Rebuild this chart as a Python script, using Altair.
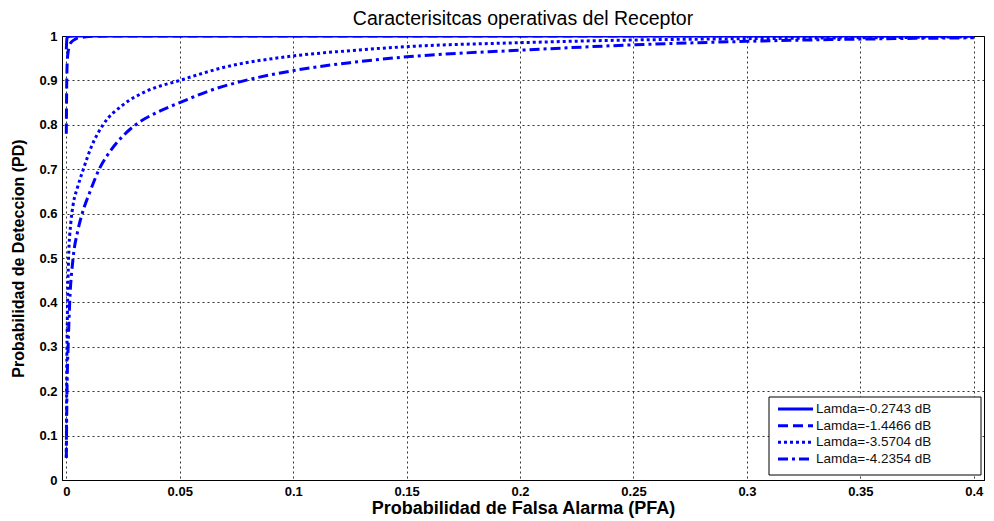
import altair as alt
import pandas as pd

# Series values
labels = ["Lamda=-0.2743 dB", "Lamda=-1.4466 dB", "Lamda=-3.5704 dB", "Lamda=-4.2354 dB"]

pfa_1 = [0.0, 0.0003, 0.001, 0.005, 0.1, 0.2, 0.3, 0.4]
pd_1 = [0.97, 0.995, 0.999, 1.0, 1.0, 1.0, 1.0, 1.0]

pfa_2 = [0.0, 0.0002, 0.0005, 0.001, 0.002, 0.004, 0.007, 0.01, 0.02, 0.05, 0.1, 0.2, 0.3, 0.4]
pd_2 = [0.78, 0.9, 0.95, 0.97, 0.985, 0.993, 0.997, 0.999, 1.0, 1.0, 1.0, 1.0, 1.0, 1.0]

pfa_3 = [0.0, 0.0002, 0.0005, 0.001, 0.002, 0.003, 0.005, 0.0075, 0.011, 0.0162, 0.025,
         0.035, 0.05, 0.07, 0.1, 0.125, 0.15, 0.2, 0.25, 0.3, 0.35, 0.4]
pd_3 = [0.05, 0.25, 0.38, 0.5, 0.58, 0.62, 0.66, 0.70, 0.75, 0.8, 0.845,
        0.875, 0.9, 0.93, 0.955, 0.967, 0.976, 0.985, 0.991, 0.994, 0.996, 0.998]

pfa_4 = [0.0, 0.0003, 0.0008, 0.0015, 0.003, 0.005, 0.007, 0.0105, 0.0145, 0.02, 0.025, 0.03,
         0.04, 0.05, 0.065, 0.079, 0.1, 0.125, 0.15, 0.2, 0.25, 0.3, 0.35, 0.4]
pd_4 = [0.05, 0.2, 0.3, 0.4, 0.5, 0.56, 0.6, 0.65, 0.7, 0.745, 0.775, 0.798,
        0.828, 0.85, 0.88, 0.9, 0.922, 0.94, 0.953, 0.968, 0.98, 0.988, 0.993, 0.996]

x_ticks = [0, 0.05, 0.1, 0.15, 0.2, 0.25, 0.3, 0.35, 0.4]
y_ticks = [0, 0.1, 0.2, 0.3, 0.4, 0.5, 0.6, 0.7, 0.8, 0.9, 1]

rows = []
for lab, xs, ys in zip(labels, [pfa_1, pfa_2, pfa_3, pfa_4], [pd_1, pd_2, pd_3, pd_4]):
    for i, (a, b) in enumerate(zip(xs, ys)):
        rows.append({"serie": lab, "pfa": a, "pd": b, "i": i})
df = pd.DataFrame(rows)
legend_df = pd.DataFrame({"serie": labels})
box_df = pd.DataFrame({"k": [0]})

FONT = "Liberation Sans"
BLUE = "#0000FF"
DASHES = [[1, 0], [10, 5], [3, 3], [10, 4, 3, 4]]

dash_enc = alt.StrokeDash("serie:N", scale=alt.Scale(domain=labels, range=DASHES), legend=None)

lines = alt.Chart(df).mark_line(interpolate="monotone", strokeWidth=3, color=BLUE, clip=True).encode(
    x=alt.X("pfa:Q", scale=alt.Scale(domain=[-0.0019, 0.4045], nice=False, zero=False),
            axis=alt.Axis(values=x_ticks, title="Probabilidad de Falsa Alarma (PFA)",
                          format="~g", labelFlush=False, titleFontSize=18)),
    y=alt.Y("pd:Q", scale=alt.Scale(domain=[0, 1], nice=False),
            axis=alt.Axis(values=y_ticks, title="Probabilidad de Deteccion (PD)", format="~g",
                          titleFontSize=16)),
    strokeDash=dash_enc,
    order="i:Q",
    detail="serie:N",
)

# Legend drawn as layers (box, line samples, labels)
leg_y = alt.Y("serie:N", scale=alt.Scale(type="point", domain=labels, range=[373, 423], padding=0),
              axis=None)

leg_box = alt.Chart(box_df).mark_rect(fill="white", stroke="black", strokeWidth=1).encode(
    x=alt.value(707), x2=alt.value(919), y=alt.value(361), y2=alt.value(439)
)
leg_lines = alt.Chart(legend_df).mark_rule(strokeWidth=3, color=BLUE).encode(
    x=alt.value(716), x2=alt.value(751), y=leg_y, strokeDash=dash_enc
)
leg_text = alt.Chart(legend_df).mark_text(align="left", baseline="middle", font=FONT,
                                          fontSize=13.5, color="#111111").encode(
    x=alt.value(754), y=leg_y, text="serie:N"
)

chart = alt.layer(lines, leg_box, leg_lines, leg_text).resolve_scale(
    y="independent"
).properties(
    width=922, height=444,
    title=alt.Title("Caracterisitcas operativas del Receptor", font=FONT, fontSize=19.5,
                    fontWeight="normal", color="black", offset=1),
    padding={"left": 54, "top": 28, "right": 2, "bottom": 40},
    autosize=alt.AutoSizeParams(type="none"),
).configure_view(
    stroke="black", strokeWidth=1
).configure_axis(
    grid=True, gridColor="#000000", gridDash=[2, 3], gridOpacity=0.8, gridWidth=1,
    domainColor="black", ticks=False, labelFont=FONT, labelFontSize=13, labelFontWeight="bold",
    labelColor="black", titleFont=FONT, titleFontWeight="bold",
    titleColor="black", labelPadding=5,
).configure_axisX(titlePadding=1).configure_axisY(titlePadding=12)

chart.save("out.html", embed_options={"renderer": "svg", "actions": False})
